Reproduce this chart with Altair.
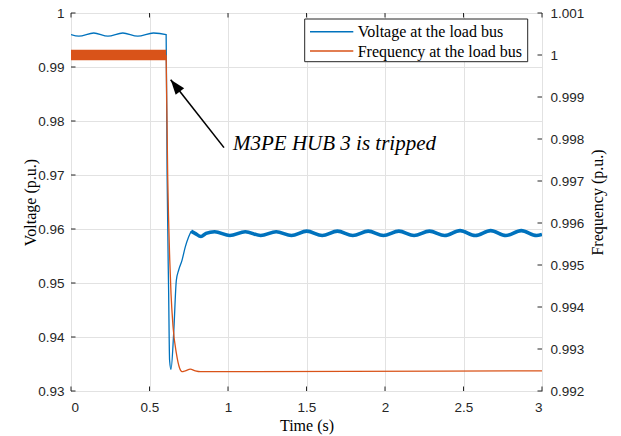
import altair as alt
import pandas as pd

# ---------------- data ----------------
T_TICKS = [0, 0.5, 1, 1.5, 2, 2.5, 3]
V_TICKS = [0.93, 0.94, 0.95, 0.96, 0.97, 0.98, 0.99, 1.0]
F_TICKS = [0.992, 0.993, 0.994, 0.995, 0.996, 0.997, 0.998, 0.999, 1.0, 1.001]

# voltage: pre-trip ripple, drop and recovery (thin trace)
V_T_THIN = [0.0, 0.05, 0.145, 0.235, 0.33, 0.425, 0.525, 0.606, 0.612, 0.622,
            0.628, 0.637, 0.654, 0.671, 0.686, 0.707, 0.728, 0.749, 0.765]
V_V_THIN = [0.9960, 0.9957, 0.9963, 0.9957, 0.9963, 0.9957, 0.9963, 0.9960, 0.9703, 0.9481,
            0.9357, 0.9340, 0.9407, 0.9505, 0.9524, 0.9542, 0.9567, 0.9585, 0.9596]
# voltage: post-trip steady oscillation (thick, noisy trace)
V_T_THICK = [0.765, 0.790, 0.828, 0.860, 0.915, 1.012, 1.110, 1.208, 1.307, 1.404,
             1.502, 1.600, 1.697, 1.795, 1.893, 1.990, 2.088, 2.185, 2.283, 2.380,
             2.478, 2.575, 2.673, 2.770, 2.868, 2.965, 3.000]
V_V_THICK = [0.9596, 0.9592, 0.9586, 0.9592, 0.9595, 0.9588, 0.9595, 0.9588, 0.9595, 0.9588,
             0.9596, 0.9588, 0.9596, 0.9588, 0.9596, 0.9588, 0.9596, 0.9588, 0.9596, 0.9588,
             0.9597, 0.9588, 0.9597, 0.9588, 0.9597, 0.9588, 0.9590]

# frequency: pre-trip fast ripple band, then decline and steady value
F_T_BAND = [0.0, 0.606]
F_V_BAND = [1.0, 1.0]
F_T_LINE = [0.606, 0.616, 0.629, 0.637, 0.650, 0.671, 0.692, 0.707, 0.728, 0.760, 0.792, 0.824, 3.0]
F_V_LINE = [1.0, 0.99710, 0.99512, 0.99432, 0.99353, 0.99290, 0.99254, 0.99246, 0.99248,
            0.99252, 0.99248, 0.99246, 0.99248]

SERIES = ["Voltage at the load bus", "Frequency at the load bus"]
COLORS = ["#0072BD", "#D95319"]

ANNOT_TEXT = ["M3PE HUB 3 is tripped"]
ANNOT_T = [1.032]
ANNOT_V = [0.97457]
ARROW_TAIL_T = [0.9745]
ARROW_TAIL_V = [0.97507]
ARROW_TIP_T = [0.635]
ARROW_TIP_V = [0.98765]

# ---------------- layout ----------------
W, H = 471, 378
DARK = "#262626"
GRID = "#e2e2e2"

X = alt.X("t:Q", scale=alt.Scale(domain=[0, 3], nice=False, zero=False),
          axis=alt.Axis(values=T_TICKS, format=".1~f", title="Time (s)", grid=True,
                        labelPadding=9, titlePadding=4))
YV = alt.Y("v:Q", scale=alt.Scale(domain=[0.93, 1.0], nice=False, zero=False),
           axis=alt.Axis(values=V_TICKS, format=".2~f", title="Voltage (p.u.)", grid=True,
                         orient="left", labelPadding=7, titlePadding=-1))
YF = alt.Y("f:Q", scale=alt.Scale(domain=[0.992, 1.001], nice=False, zero=False),
           axis=alt.Axis(values=F_TICKS, format=".3~f", title="Frequency (p.u.)", grid=False,
                         orient="right", labelPadding=8, titlePadding=6,
                         titleAngle=270, titleBaseline="top"))

df_v_thin = pd.DataFrame({"t": V_T_THIN, "v": V_V_THIN})
df_v_thick = pd.DataFrame({"t": V_T_THICK, "v": V_V_THICK})
df_f_band = pd.DataFrame({"t": F_T_BAND, "f": F_V_BAND})
df_f_line = pd.DataFrame({"t": F_T_LINE, "f": F_V_LINE})

v_thin = alt.Chart(df_v_thin).mark_line(color=COLORS[0], strokeWidth=1.3,
                                        interpolate="monotone", clip=True).encode(x=X, y=YV)
v_thick = alt.Chart(df_v_thick).mark_line(color=COLORS[0], strokeWidth=3.6,
                                          interpolate="monotone", clip=True).encode(x=X, y=YV)

# inward ticks (MATLAB style box)
df_vt = pd.DataFrame({"v": V_TICKS})
df_tt = pd.DataFrame({"t": T_TICKS})
df_ft = pd.DataFrame({"f": F_TICKS})
left_ticks = alt.Chart(df_vt).mark_rule(color=DARK, strokeWidth=1).encode(
    y=YV, x=alt.value(0), x2=alt.value(4.5))
bottom_ticks = alt.Chart(df_tt).mark_rule(color=DARK, strokeWidth=1).encode(
    x=X, y=alt.value(H - 4.5), y2=alt.value(H))
top_ticks = alt.Chart(df_tt).mark_rule(color=DARK, strokeWidth=1).encode(
    x=X, y=alt.value(0), y2=alt.value(4.5))
right_ticks = alt.Chart(df_ft).mark_rule(color=DARK, strokeWidth=1).encode(
    y=YF, x=alt.value(W - 4.5), x2=alt.value(W))

# annotation
df_annot = pd.DataFrame({"t": ANNOT_T, "v": ANNOT_V, "label": ANNOT_TEXT})
annot_text = alt.Chart(df_annot).mark_text(
    font="Liberation Serif", fontStyle="italic", fontSize=21, align="left",
    baseline="alphabetic", color="#000000").encode(x=X, y=YV, text="label:N")
df_arrow = pd.DataFrame({"t": ARROW_TAIL_T, "v": ARROW_TAIL_V,
                         "t2": ARROW_TIP_T, "v2": ARROW_TIP_V})
arrow_line = alt.Chart(df_arrow).mark_rule(color="#000000", strokeWidth=1.6).encode(
    x=X, y=YV, x2="t2:Q", y2="v2:Q")
df_head = pd.DataFrame({"t": ARROW_TIP_T, "v": ARROW_TIP_V})
arrow_head = alt.Chart(df_head).mark_point(
    shape="M0,0L-0.36,1L0.36,1Z", size=900, angle=322, filled=True,
    color="#000000", opacity=1, strokeWidth=0).encode(x=X, y=YV)

# legend (box with two entries)
df_leg = pd.DataFrame({"series": SERIES})
LX0, LX1, LY0, LY1 = 233.7, 456.7, 6, 48.7
legend_box = alt.Chart(df_leg.head(1)).mark_rect(
    fill="white", stroke=DARK, strokeWidth=1).encode(
    x=alt.value(LX0), x2=alt.value(LX1), y=alt.value(LY0), y2=alt.value(LY1))
legend_layers = [legend_box]
for i, (name, col) in enumerate(zip(SERIES, COLORS)):
    yy = 18.7 + i * 19.3
    d = pd.DataFrame({"series": [name]})
    legend_layers.append(alt.Chart(d).mark_rule(color=col, strokeWidth=1.5).encode(
        x=alt.value(239), x2=alt.value(282.3), y=alt.value(yy)))
    legend_layers.append(alt.Chart(d).mark_text(
        font="Liberation Serif", fontSize=16, align="left", baseline="middle",
        color="#000000").encode(x=alt.value(286.7), y=alt.value(yy + 0.5), text="series:N"))

f_band = alt.Chart(df_f_band).mark_line(color=COLORS[1], strokeWidth=10.3,
                                        strokeCap="butt", clip=True).encode(x=X, y=YF)
f_line = alt.Chart(df_f_line).mark_line(color=COLORS[1], strokeWidth=1.3,
                                        interpolate="monotone", clip=True).encode(x=X, y=YF)

volt_group = alt.layer(v_thin, v_thick, left_ticks, bottom_ticks, top_ticks,
                       arrow_line, arrow_head, annot_text)
freq_group = alt.layer(f_band, f_line, right_ticks)
legend_group = alt.layer(*legend_layers)

chart = alt.layer(volt_group, freq_group, legend_group).resolve_scale(
    y="independent"
).properties(
    width=W, height=H,
    background="white",
    autosize=alt.AutoSizeParams(type="none"),
    padding={"left": 71, "top": 13, "right": 621 - 71 - W, "bottom": 436 - 13 - H},
).configure_view(
    stroke=DARK, strokeWidth=1
).configure_axis(
    labelFont="Liberation Sans", labelFontSize=13.5, labelColor=DARK,
    titleFont="Liberation Serif", titleFontSize=16, titleFontWeight="normal",
    titleColor="#000000", gridColor=GRID, gridWidth=1, ticks=False, tickSize=0,
    domain=False
)

chart.save("out.html", embed_options={"renderer": "svg", "actions": False})
